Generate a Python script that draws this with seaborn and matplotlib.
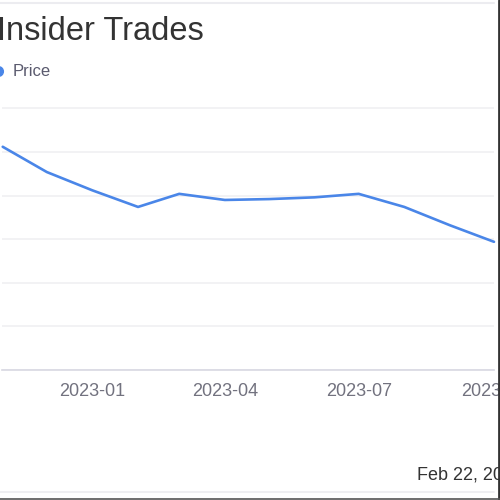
import matplotlib
matplotlib.use("Agg")
import matplotlib.pyplot as plt
from matplotlib.lines import Line2D
import seaborn as sns
import pandas as pd

# ---- data ----
dates = ["2022-11-01", "2022-12-01", "2023-01-01", "2023-02-01", "2023-03-01",
         "2023-04-01", "2023-05-01", "2023-06-01", "2023-07-01", "2023-08-01",
         "2023-09-01", "2023-10-01"]
price = [25.6, 22.7, 20.6, 18.7, 20.2, 19.5, 19.6, 19.8, 20.2, 18.7, 16.6, 14.7]
tick_dates = ["2023-01-01", "2023-04-01", "2023-07-01", "2023-10-01"]
tick_labels = ["2023-01", "2023-04", "2023-07", "2023-10"]
title_text = "Insider Trades"
legend_label = "Price"
footer_text = "Feb 22, 2024"

df = pd.DataFrame({"date": pd.to_datetime(dates), "price": price})

sns.set_style("white")
plt.rcParams["font.family"] = ["Liberation Sans", "DejaVu Sans"]

W = H = 500
fig = plt.figure(figsize=(5, 5), dpi=100)

# axes in pixel coordinates
ax_left, ax_right = 2, 494
ax_bottom_px, ax_top_px = 370, 100
ax = fig.add_axes([ax_left / W, 1 - ax_bottom_px / H,
                   (ax_right - ax_left) / W, (ax_bottom_px - ax_top_px) / H])

line_color = "#4a86e8"
sns.lineplot(data=df, x="date", y="price", ax=ax, color=line_color,
             linewidth=1.9, legend=False, clip_on=False)

# x range: pixel 93 = 2023-01-01, 1.48 px/day
jan1 = pd.Timestamp("2023-01-01")
px_per_day = 1.48
xmin = jan1 + pd.Timedelta(days=(ax_left - 93) / px_per_day)
xmax = jan1 + pd.Timedelta(days=(ax_right - 93) / px_per_day)
ax.set_xlim(xmin, xmax)
unit = 43.6 / 5.0
ax.set_ylim(0, (ax_bottom_px - ax_top_px) / unit)

ax.set_xticks(pd.to_datetime(tick_dates))
ax.set_xticklabels(tick_labels)
ax.set_yticks([0, 5, 10, 15, 20, 25, 30])
ax.set_yticklabels([])
ax.tick_params(axis="y", length=0)
ax.tick_params(axis="x", length=4, width=0.8, color="#d8d8e0", pad=5,
               labelsize=13, labelcolor="#72727f")
ax.grid(axis="y", color="#f0f0f2", linewidth=1.2)
ax.set_axisbelow(True)
for s in ["top", "right", "left"]:
    ax.spines[s].set_visible(False)
ax.spines["bottom"].set_color("#d8d8e2")
ax.spines["bottom"].set_linewidth(1.2)
ax.set_xlabel("")
ax.set_ylabel("")

# title, legend, footer
fig.text(-3 / W, 1 - 31 / H, title_text, fontsize=23.5, color="#333333",
         ha="left", va="center")
fig.add_artist(Line2D([-2 / W], [1 - 71 / H], marker="o", markersize=7,
                      color=line_color, linestyle="none", clip_on=False,
                      transform=fig.transFigure))
fig.text(13 / W, 1 - 72 / H, legend_label, fontsize=12, color="#5a5a6e",
         ha="left", va="center")
fig.text(417 / W, 1 - 475 / H, footer_text, fontsize=13, color="#333333",
         ha="left", va="center")

# frame lines of the screenshot
fig.add_artist(Line2D([0, 494 / W], [1 - 3 / H, 1 - 3 / H], color="#ececf0",
                      linewidth=1.5, transform=fig.transFigure))
fig.add_artist(Line2D([0, 494 / W], [1 - 492 / H, 1 - 492 / H], color="#ececf0",
                      linewidth=1.2, transform=fig.transFigure))
fig.add_artist(Line2D([498.5 / W, 498.5 / W], [0, 1], color="#333333",
                      linewidth=2, transform=fig.transFigure))
fig.add_artist(Line2D([0, 1], [1 - 498.5 / H, 1 - 498.5 / H], color="#555555",
                      linewidth=1.2, transform=fig.transFigure))

fig.savefig("out.png", dpi=100)
